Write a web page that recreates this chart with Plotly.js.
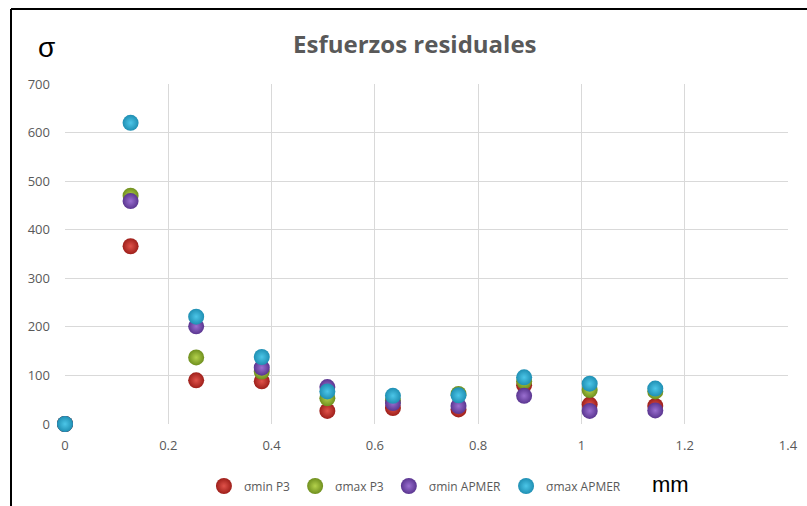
<!DOCTYPE html>
<html>
<head>
<meta charset="utf-8">
<script src="https://cdn.plot.ly/plotly-3.0.1.min.js"></script>
<style>html,body{margin:0;padding:0;background:#fff;}#chart{width:807px;height:506px;}</style>
</head>
<body>
<div id="chart"></div>
<script>
const xValues = [0, 0.127, 0.254, 0.381, 0.508, 0.635, 0.762, 0.889, 1.016, 1.143];
const sminP3 = [0, 366, 90, 88, 27, 33, 30, 80, 40, 37];
const smaxP3 = [0, 470, 137, 108, 53, 48, 62, 88, 70, 67];
const sminAPMER = [0, 459, 201, 116, 76, 43, 37, 58, 27, 28];
const smaxAPMER = [0, 620, 221, 138, 67, 58, 59, 96, 83, 73];
const seriesNames = ["σmin P3", "σmax P3", "σmin APMER", "σmax APMER"];
const edgeColors = ["#9e1f1a", "#6f8f1e", "#5a3590", "#1f8fb3"];
const centerColors = ["#e0524a", "#b4d24c", "#9a6fd0", "#4cc6e8"];
const xTicks = [0, 0.2, 0.4, 0.6, 0.8, 1, 1.2, 1.4];
const yTicks = [0, 100, 200, 300, 400, 500, 600, 700];

const seriesData = [sminP3, smaxP3, sminAPMER, smaxAPMER];
const traces = seriesData.map((ys, i) => ({
  type: 'scatter', mode: 'markers', name: seriesNames[i],
  x: xValues, y: ys, cliponaxis: false,
  marker: {size: 16, color: edgeColors[i], line: {width: 0},
           gradient: {type: 'radial', color: centerColors[i]}}
}));

const gray = '#595959';
const layout = {
  width: 807, height: 506,
  margin: {l: 65, r: 19, t: 84, b: 82, autoexpand: false},
  paper_bgcolor: '#fff', plot_bgcolor: '#fff',
  font: {family: 'Open Sans, sans-serif', color: gray, size: 13},
  title: {text: 'Esfuerzos residuales', x: 0.514, xanchor: 'center', y: 0.911, yanchor: 'middle',
          font: {family: 'Open Sans, sans-serif', size: 24, color: gray, weight: 'bold'}},
  xaxis: {range: [0, 1.4], tickvals: xTicks, ticktext: xTicks.map(String),
          showgrid: true, gridcolor: '#d9d9d9', gridwidth: 1, zeroline: false,
          showline: false, ticks: '', ticklabelstandoff: 12,
          tickfont: {size: 13, color: gray}, fixedrange: true},
  yaxis: {range: [0, 700], tickvals: yTicks, ticktext: yTicks.map(String),
          showgrid: true, gridcolor: '#d9d9d9', gridwidth: 1, zeroline: false,
          showline: false, ticks: '', ticklabelstandoff: 14,
          tickfont: {size: 13, color: gray}, fixedrange: true},
  showlegend: true,
  legend: {orientation: 'h', x: 0.484, xanchor: 'center', y: (424 - 486) / 340, yanchor: 'middle',
           font: {size: 12, color: gray}, itemwidth: 30, traceorder: 'normal'},
  annotations: [
    {text: 'σ', xref: 'paper', yref: 'paper', x: (46 - 65) / 723, y: (424 - 48) / 340,
     xanchor: 'center', yanchor: 'middle', showarrow: false,
     font: {family: 'Liberation Sans, Arial, sans-serif', size: 28, color: '#000'}},
    {text: 'mm', xref: 'paper', yref: 'paper', x: (670 - 65) / 723, y: (424 - 484) / 340,
     xanchor: 'center', yanchor: 'middle', showarrow: false,
     font: {family: 'Liberation Sans, Arial, sans-serif', size: 22, color: '#000'}}
  ],
  shapes: [
    {type: 'line', xref: 'paper', yref: 'paper', x0: (11 - 65) / 723, x1: (11 - 65) / 723,
     y0: (424 - 9) / 340, y1: (424 - 510) / 340, line: {color: '#000', width: 2}},
    {type: 'line', xref: 'paper', yref: 'paper', x0: (11 - 65) / 723, x1: (810 - 65) / 723,
     y0: (424 - 9) / 340, y1: (424 - 9) / 340, line: {color: '#000', width: 2}}
  ]
};
Plotly.newPlot('chart', traces, layout, {displayModeBar: false, staticPlot: true});
</script>
</body>
</html>
